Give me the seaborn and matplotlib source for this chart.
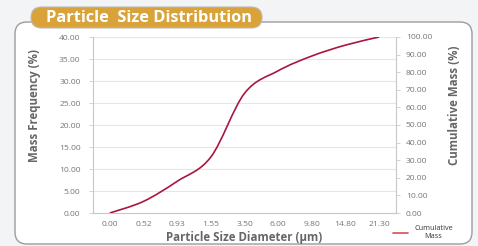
import numpy as np
import pandas as pd
import matplotlib
matplotlib.use("Agg")
import matplotlib.pyplot as plt
import seaborn as sns
from matplotlib.patches import FancyBboxPatch, PathPatch
from matplotlib.path import Path
from matplotlib.transforms import IdentityTransform
from matplotlib.lines import Line2D

# ---- data ----
size_labels = ["0.00", "0.52", "0.93", "1.55", "3.50", "6.00", "9.80", "14.80", "21.30"]
cumulative_mass = [0.0, 6.6, 18.0, 31.8, 68.0, 80.8, 89.2, 95.4, 100.0]
left_ticks = [0, 5, 10, 15, 20, 25, 30, 35, 40]
right_ticks = [0, 10, 20, 30, 40, 50, 60, 70, 80, 90, 100]

title = "Particle  Size Distribution"
xlabel = "Particle Size Diameter (\u00b5m)"
ylabel_left = "Mass Frequency (%)"
ylabel_right = "Cumulative Mass (%)"
legend_label = "Cumulative\nMass"

sns.set_theme(style="white")
plt.rcParams['font.family'] = ['Open Sans', 'DejaVu Sans']

W, H = 478, 246
fig = plt.figure(figsize=(W / 100, H / 100), dpi=100)
fig.patch.set_facecolor("#f3f4f6")

# panel
panel = FancyBboxPatch((15, 2), 457, 222, boxstyle="round,pad=0,rounding_size=12",
                       transform=IdentityTransform(), facecolor="white",
                       edgecolor="#9c9c9c", linewidth=1.0, zorder=-5)
fig.add_artist(panel)

# title badge
badge = FancyBboxPatch((31, 218), 231, 21, boxstyle="round,pad=0,rounding_size=10.5",
                       transform=IdentityTransform(), facecolor="#d9a33a",
                       edgecolor="#b9b9b9", linewidth=0.8, zorder=-4)
fig.add_artist(badge)
fig.text(46 / W, 1 - 18.5 / H, title, color="white", fontsize=11.8, fontweight="bold",
         ha="left", va="center")

L, R, T, B = 93, 396, 37, 213
ax = fig.add_axes([L / W, 1 - B / H, (R - L) / W, (B - T) / H])
ax.set_facecolor("none")
ax2 = ax.twinx()

pos = np.arange(len(size_labels))
df = pd.DataFrame({"pos": pos, "cum": cumulative_mass})
sns.lineplot(data=df, x="pos", y="cum", ax=ax2, color="#a8173f", linewidth=1.2)

# smooth the line (Catmull-Rom -> cubic Bezier) from the data
line = ax2.lines[0]
xy = np.column_stack([line.get_xdata(), line.get_ydata()]).astype(float)
line.set_visible(False)
n = len(xy)
verts = [tuple(xy[0])]
codes = [Path.MOVETO]
for i in range(n - 1):
    p0 = xy[i - 1] if i > 0 else xy[i]
    p1 = xy[i]
    p2 = xy[i + 1]
    p3 = xy[i + 2] if i + 2 < n else xy[i + 1]
    c1 = p1 + (p2 - p0) / 6.0
    c2 = p2 - (p3 - p1) / 6.0
    verts += [tuple(c1), tuple(c2), tuple(p2)]
    codes += [Path.CURVE4] * 3
ax2.add_patch(PathPatch(Path(verts, codes), transform=ax2.transData, fill=False,
                        edgecolor="#a8173f", linewidth=1.2, zorder=3))

ax.set_xlim(-0.5, len(size_labels) - 0.5)
ax.set_ylim(0, 40)
ax2.set_ylim(0, 100)
ax.set_yticks(left_ticks)
ax.set_yticklabels([f"{v:.2f}" for v in left_ticks])
ax2.set_yticks(right_ticks)
ax2.set_yticklabels([f"{v:.2f}" for v in right_ticks])

ax.set_xticks(pos)
ax.set_xticklabels(size_labels)
ax.set_xticks(np.arange(len(size_labels) + 1) - 0.5, minor=True)
ax.tick_params(axis="x", which="major", length=0, pad=6, labelsize=6.1, labelcolor="#777777")
ax.tick_params(axis="x", which="minor", length=3, width=0.6, color="#cccccc", direction="out")
ax.tick_params(axis="y", length=3, width=0.6, color="#cccccc", pad=6, labelsize=6.1,
               labelcolor="#777777", left=True)
ax2.tick_params(axis="y", length=3, width=0.6, color="#cccccc", pad=4, labelsize=6.1,
                labelcolor="#777777", right=True)
ax2.set_xlabel("")

ax.grid(axis="y", color="#e6e6e6", linewidth=0.8)
ax.set_axisbelow(True)
ax2.grid(False)

for a in (ax, ax2):
    for s in a.spines.values():
        s.set_visible(False)
for a, side in ((ax, "left"), (ax, "bottom"), (ax2, "right")):
    a.spines[side].set_visible(True)
    a.spines[side].set_color("#c8c8c8")
    a.spines[side].set_linewidth(0.8)

lab_kw = dict(fontsize=8.3, fontweight="bold", color="#666666")
ax.set_xlabel(xlabel, va="center", **lab_kw)
ax.set_ylabel(ylabel_left, va="center", **lab_kw)
ax2.set_ylabel(ylabel_right, va="center", **lab_kw)
ax.xaxis.set_label_coords(0.5, (B - 238) / (B - T))
ax.yaxis.set_label_coords((35 - L) / (R - L), (B - 105) / (B - T))
ax2.yaxis.set_label_coords((455 - L) / (R - L), (B - 105) / (B - T))

# legend
leg_handle = Line2D([], [], color="#d0505f", linewidth=1.2)
leg = fig.legend([leg_handle], [legend_label], loc="center", bbox_to_anchor=(423 / W, 1 - 233 / H),
                 frameon=False, fontsize=5.2, handlelength=2.0, handletextpad=0.9,
                 labelcolor="#333333")
for t in leg.get_texts():
    t.set_multialignment("center")

fig.savefig("out.png", dpi=100, facecolor=fig.get_facecolor())
